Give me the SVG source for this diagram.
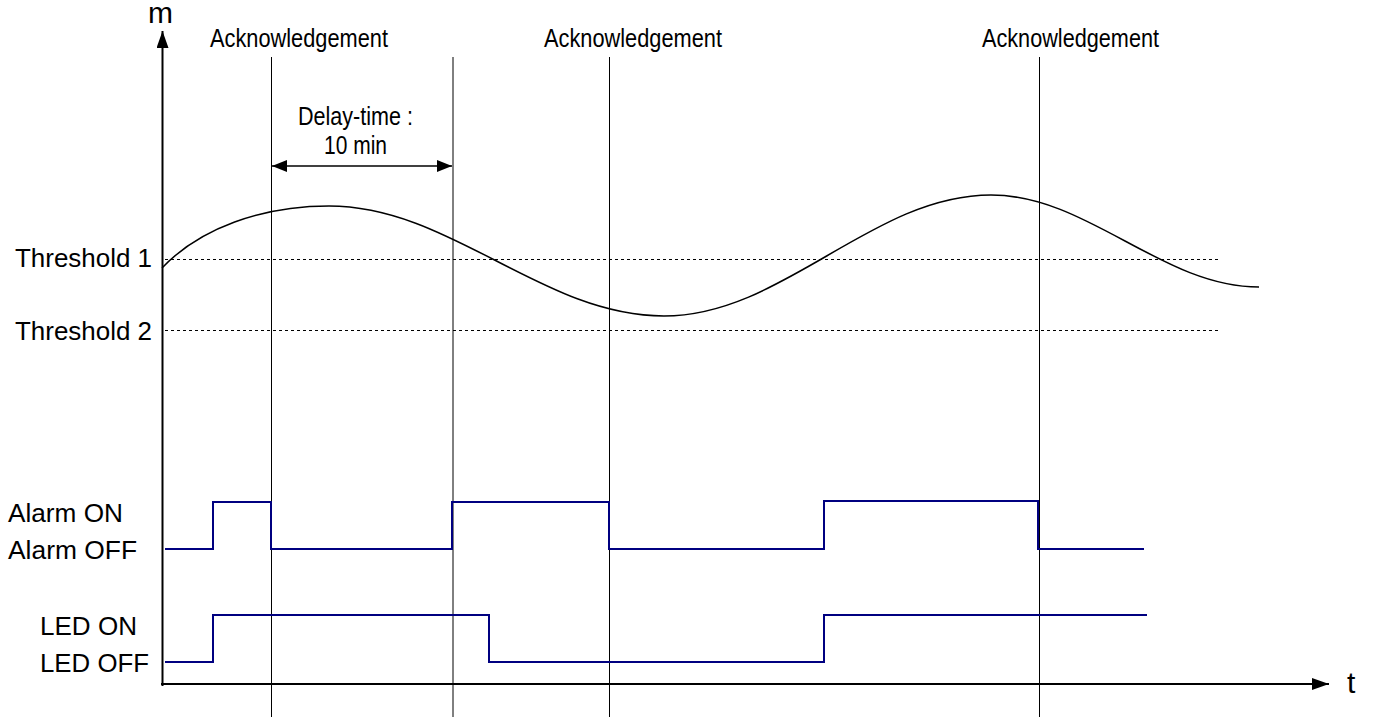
<svg xmlns="http://www.w3.org/2000/svg" width="1373" height="717" viewBox="0 0 1373 717">
<defs>
<style>
.lbl{font-family:"Liberation Sans",Arial,sans-serif;font-size:25px;fill:#000}
.big{font-family:"Liberation Sans",Arial,sans-serif;font-size:30px;fill:#000}
.ack{font-family:"Liberation Sans",Arial,sans-serif;font-size:25px;fill:#000}
.axis{stroke:#000;stroke-width:2;fill:none}
.vline{stroke:#000;stroke-width:1;fill:none}
.dash{stroke:#000;stroke-width:1;stroke-dasharray:3 3;fill:none}
.sig{stroke:#000080;stroke-width:2;fill:none}
.curve{stroke:#000;stroke-width:1.5;fill:none}
</style>
<marker id="ah" markerWidth="17" markerHeight="12" refX="17" refY="6" orient="auto" markerUnits="userSpaceOnUse">
<path d="M0,0 L17,6 L0,12 Z" fill="#000"/>
</marker>
<marker id="ahs" markerWidth="15" markerHeight="12" refX="15" refY="6" orient="auto-start-reverse" markerUnits="userSpaceOnUse">
<path d="M0,0 L15,6 L0,12 Z" fill="#000"/>
</marker>
</defs>
<rect width="1373" height="717" fill="#fff"/>

<g id="connectors">
<line class="axis" x1="162.5" y1="686" x2="162.5" y2="31" marker-end="url(#ah)"/>
<line class="axis" x1="161" y1="684" x2="1329" y2="684" marker-end="url(#ah)"/>
<line class="vline" x1="271.5" y1="57" x2="271.5" y2="717"/>
<line class="vline" x1="453" y1="57" x2="453" y2="717" stroke="#555"/>
<line class="vline" x1="609.5" y1="57" x2="609.5" y2="717"/>
<line class="vline" x1="1039.5" y1="57" x2="1039.5" y2="717"/>
<line class="dash" x1="165" y1="259.5" x2="1218" y2="259.5"/>
<line class="dash" x1="165" y1="330.5" x2="1220" y2="330.5"/>
<line stroke="#000" stroke-width="1.5" x1="272" y1="166" x2="452" y2="166" marker-start="url(#ahs)" marker-end="url(#ahs)"/>
<path class="curve" d="M162,268 C200,228 262,206 329,206 C451,206 542,316 664,316 C783,316 872,195 991,195 C1088,195 1162,287 1259,287"/>
<path class="sig" d="M165,549 H213 V502 H271 V549 H452 V502 H609 V549 H824 V501 H1038 V549 H1144"/>
<path class="sig" d="M165,662 H213 V615 H489 V662 H824 V615 H1147"/>
</g>

<g id="axis-labels">
<text class="big" x="148" y="23" textLength="25" lengthAdjust="spacingAndGlyphs">m</text>
<text class="big" x="1347" y="693">t</text>
</g>

<g id="ack1"><text class="ack" x="210" y="47" textLength="178" lengthAdjust="spacingAndGlyphs">Acknowledgement</text></g>
<g id="ack2"><text class="ack" x="544" y="47" textLength="178" lengthAdjust="spacingAndGlyphs">Acknowledgement</text></g>
<g id="ack3"><text class="ack" x="982" y="47" textLength="177" lengthAdjust="spacingAndGlyphs">Acknowledgement</text></g>

<g id="delay">
<text class="ack" x="298" y="125" textLength="115" lengthAdjust="spacingAndGlyphs">Delay-time :</text>
<text class="ack" x="324" y="154" textLength="63" lengthAdjust="spacingAndGlyphs">10 min</text>
</g>

<g id="threshold1"><text class="lbl" x="15" y="267" textLength="137" lengthAdjust="spacingAndGlyphs">Threshold 1</text></g>
<g id="threshold2"><text class="lbl" x="15" y="340" textLength="137" lengthAdjust="spacingAndGlyphs">Threshold 2</text></g>
<g id="alarm-on"><text class="lbl" x="8" y="522" textLength="115" lengthAdjust="spacingAndGlyphs">Alarm ON</text></g>
<g id="alarm-off"><text class="lbl" x="8" y="559" textLength="129" lengthAdjust="spacingAndGlyphs">Alarm OFF</text></g>
<g id="led-on"><text class="lbl" x="40" y="635" textLength="97" lengthAdjust="spacingAndGlyphs">LED ON</text></g>
<g id="led-off"><text class="lbl" x="40" y="672" textLength="109" lengthAdjust="spacingAndGlyphs">LED OFF</text></g>
</svg>
